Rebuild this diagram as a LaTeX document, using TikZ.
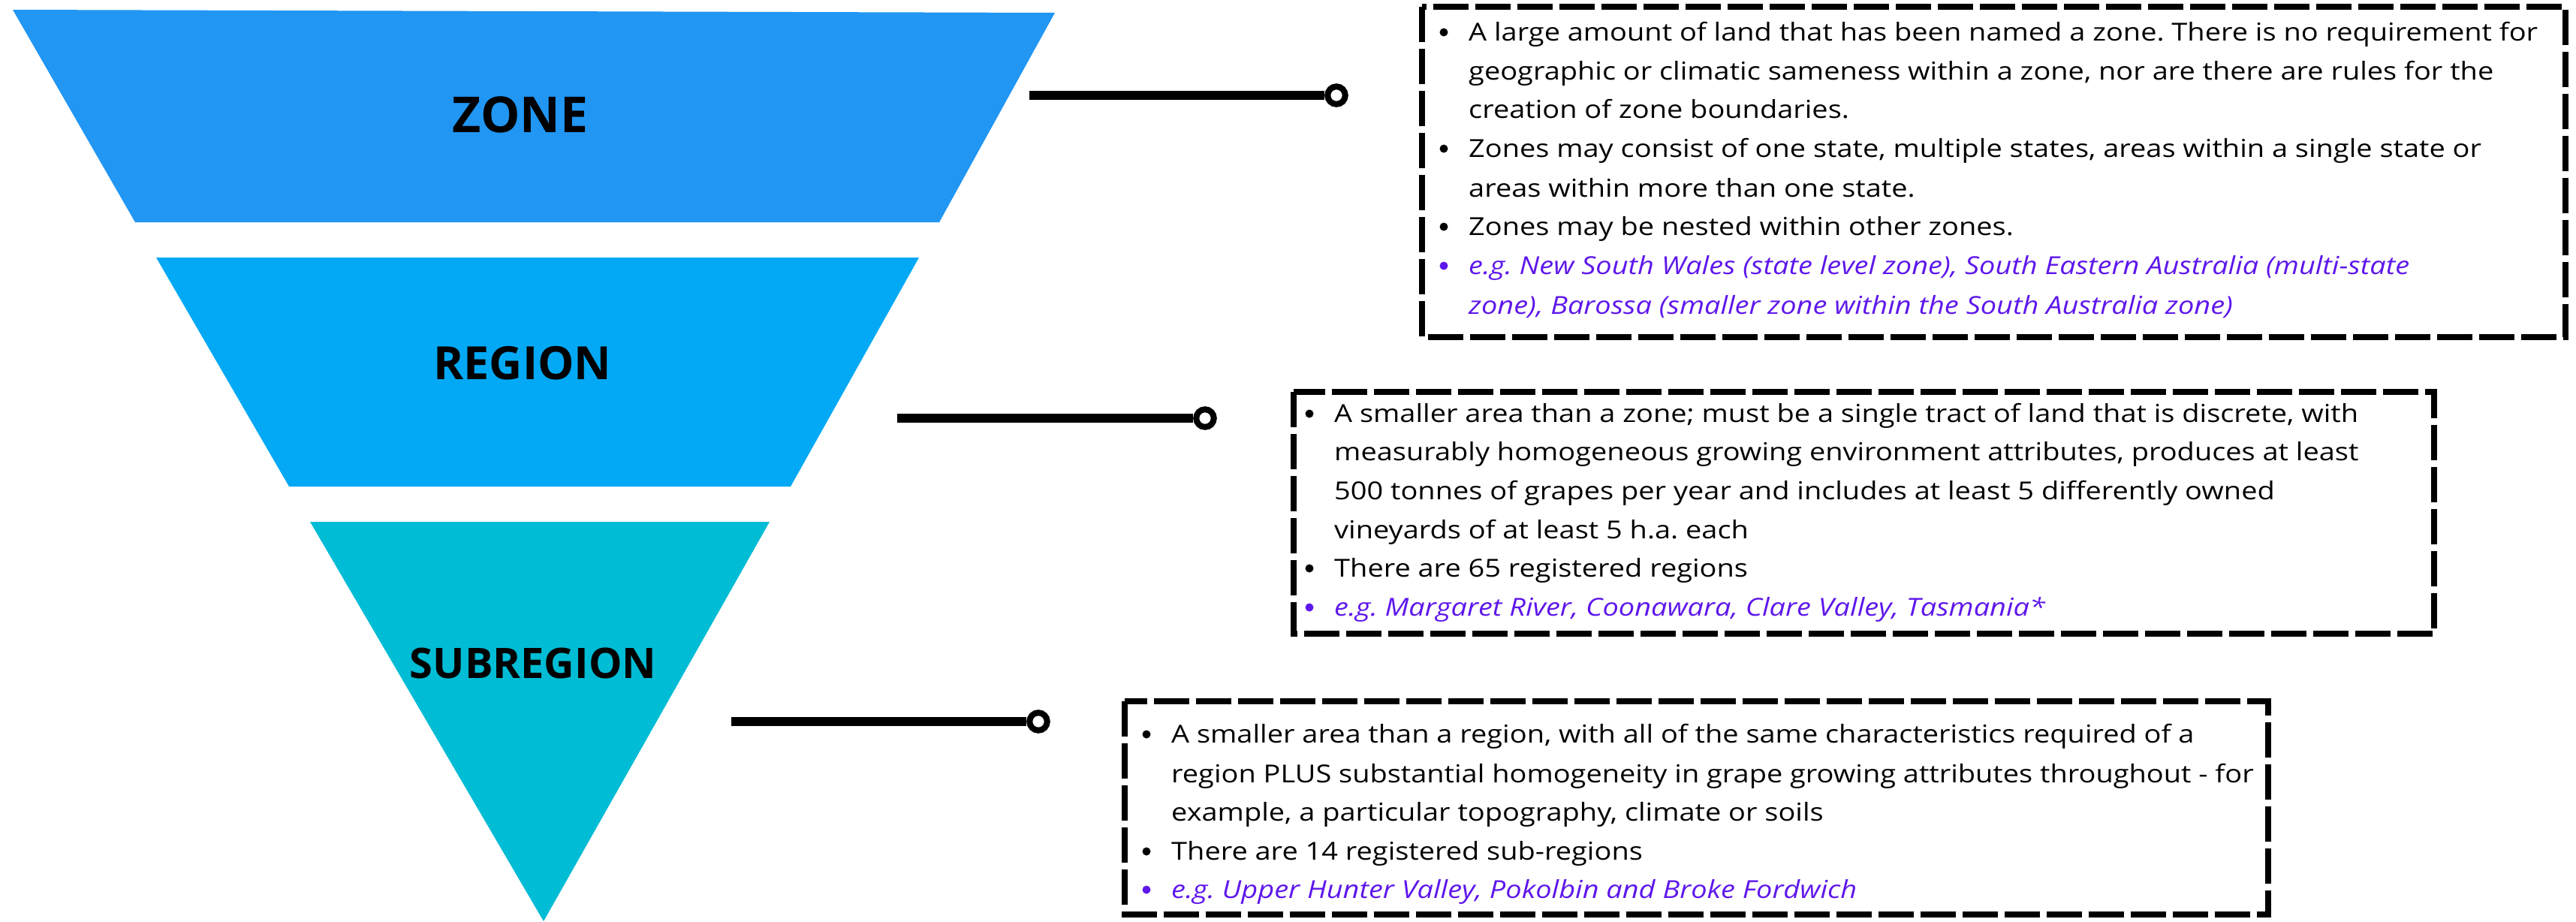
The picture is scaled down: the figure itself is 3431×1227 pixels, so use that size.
\documentclass[tikz,border=0pt]{standalone}
\usepackage{fontspec}
\setmainfont[FakeStretch=1.15]{Open Sans}
\newfontfamily\headfont{Open Sans}
\frenchspacing
\definecolor{zonec}{HTML}{2196F3}
\definecolor{regc}{HTML}{03A9F4}
\definecolor{subc}{HTML}{00BCD4}
\definecolor{egc}{HTML}{5E17EB}
\newcommand\bodysize{\fontsize{33}{40}\selectfont\frenchspacing}
\tikzset{
  head/.style={font=\headfont\bfseries, inner sep=0pt},
  txt/.style={anchor=base west, inner sep=0pt, font=\bodysize},
  egtxt/.style={txt, text=egc, font=\bodysize\itshape},
  bul/.style={circle, fill=black, inner sep=0pt, minimum size=11pt, yshift=11pt},
  egbul/.style={bul, fill=egc},
  conn/.style={line width=12pt},
  dotc/.style={circle, draw, line width=8pt, fill=white, minimum size=23.5pt, inner sep=0pt},
  infobox/.style={draw, line width=8pt, dash pattern=on 47pt off 9pt}
}
\begin{document}
\begin{tikzpicture}[x=1pt,y=-1pt]
\useasboundingbox (0,0) rectangle (3431,1227);
% funnel
\fill[zonec] (17,13) -- (1405,17) -- (1251,296) -- (180,296) -- cycle;
\fill[regc] (208,343) -- (1224,343) -- (1053,648) -- (385,648) -- cycle;
\fill[subc] (413,695) -- (1025,695) -- (724,1227) -- cycle;
\node[head, font=\headfont\bfseries\fontsize{66}{70}\selectfont] (hz) at (693,153) {ZONE};
\node[head, font=\headfont\bfseries\fontsize{61}{66}\selectfont] (hr) at (696,484) {REGION};
\node[head, font=\headfont\bfseries\fontsize{56}{60}\selectfont] (hs) at (710,883) {SUBREGION};
% connectors
\coordinate (s1) at (1371,127);
\coordinate (s2) at (1195,557);
\coordinate (s3) at (974,961);
\node[dotc] (d1) at (1780,127) {};
\node[dotc] (d2) at (1605,557) {};
\node[dotc] (d3) at (1383,961) {};
\draw[conn] (s1) -- (d1.west);
\draw[conn] (s2) -- (d2.west);
\draw[conn] (s3) -- (d3.west);
% boxes
\draw[infobox] (1894,9) rectangle (3417,449);
\draw[infobox] (1723,522) rectangle (3242,844);
\draw[infobox] (1498,934) rectangle (3021,1218);
% box 1 text
\node[bul] (b1a) at (1923,54) {};
\node[txt] (t1a) at (1956,54) {A large amount of land that has been named a zone. There is no requirement for};
\node[txt] (t1b) at (1956,106) {geographic or climatic sameness within a zone, nor are there are rules for the};
\node[txt] (t1c) at (1956,157) {creation of zone boundaries.};
\node[bul] (b1d) at (1923,209) {};
\node[txt] (t1d) at (1956,209) {Zones may consist of one state, multiple states, areas within a single state or};
\node[txt] (t1e) at (1956,262) {areas within more than one state.};
\node[bul] (b1f) at (1923,313) {};
\node[txt] (t1f) at (1956,313) {Zones may be nested within other zones.};
\node[egbul] (b1g) at (1923,365) {};
\node[egtxt] (t1g) at (1956,365) {e.g. New South Wales (state level zone), South Eastern Australia (multi-state};
\node[egtxt] (t1h) at (1956,418) {zone), Barossa (smaller zone within the South Australia zone)};
% box 2 text
\node[bul] (b2a) at (1744,562) {};
\node[txt] (t2a) at (1777,562) {A smaller area than a zone; must be a single tract of land that is discrete, with};
\node[txt] (t2b) at (1777,613) {measurably homogeneous growing environment attributes, produces at least};
\node[txt] (t2c) at (1777,665) {500 tonnes of grapes per year and includes at least 5 differently owned};
\node[txt] (t2d) at (1777,717) {vineyards of at least 5 h.a. each};
\node[bul] (b2e) at (1744,768) {};
\node[txt] (t2e) at (1777,768) {There are 65 registered regions};
\node[egbul] (b2f) at (1744,820) {};
\node[egtxt] (t2f) at (1777,820) {e.g. Margaret River, Coonawara, Clare Valley, Tasmania*};
% box 3 text
\node[bul] (b3a) at (1527,989) {};
\node[txt] (t3a) at (1560,989) {A smaller area than a region, with all of the same characteristics required of a};
\node[txt] (t3b) at (1560,1042) {region PLUS substantial homogeneity in grape growing attributes throughout - for};
\node[txt] (t3c) at (1560,1093) {example, a particular topography, climate or soils};
\node[bul] (b3d) at (1527,1145) {};
\node[txt] (t3d) at (1560,1145) {There are 14 registered sub-regions};
\node[egbul] (b3e) at (1527,1196) {};
\node[egtxt] (t3e) at (1560,1196) {e.g. Upper Hunter Valley, Pokolbin and Broke Fordwich};
\end{tikzpicture}
\end{document}
